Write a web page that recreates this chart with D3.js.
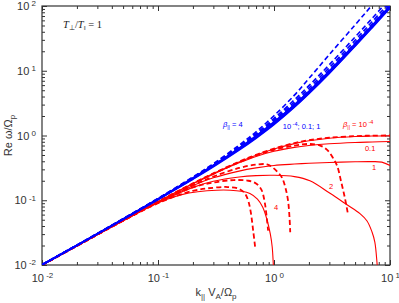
<!DOCTYPE html>
<html>
<head>
<meta charset="utf-8">
<script src="https://cdn.jsdelivr.net/npm/d3@7"></script>
<style>
  body { margin: 0; background: #fff; }
  svg { display: block; }
</style>
</head>
<body>
<svg id="chart" width="399" height="303"></svg>
<script>
/////////////////////////////////////////////////////////////////
// Data: k|| VA/Omega_p and Re omega/Omega_p
/////////////////////////////////////////////////////////////////

var kGrid = [0.01, 0.02, 0.05, 0.1, 0.2, 0.3, 0.5, 0.7, 1, 1.5, 2, 3, 5, 7, 10];

// blue (R-mode / whistler) branch, solid lines, beta = 1e-4, 0.1, 1, 2, 4
var blueSolid1e4 = [0.0101, 0.0202, 0.0513, 0.105, 0.221, 0.348, 0.640, 0.987, 1.62, 3.00, 4.83, 9.91, 26.0, 50.0, 101];
var blueSolid01  = [0.0101, 0.0202, 0.0512, 0.105, 0.220, 0.346, 0.634, 0.976, 1.60, 2.95, 4.76, 9.76, 25.6, 49.2, 99.4];
var blueSolid1   = [0.0101, 0.0201, 0.0510, 0.104, 0.218, 0.341, 0.622, 0.952, 1.55, 2.87, 4.63, 9.50, 24.9, 48.0, 97.0];
var blueSolid2   = [0.0100, 0.0200, 0.0507, 0.103, 0.215, 0.336, 0.610, 0.930, 1.51, 2.80, 4.52, 9.30, 24.4, 47.0, 95.0];
var blueSolid4   = [0.0100, 0.0199, 0.0503, 0.102, 0.211, 0.328, 0.594, 0.905, 1.47, 2.73, 4.41, 9.08, 23.9, 46.0, 93.0];

// blue branch, dashed lines
var blueDash1e4 = [0.0101, 0.0202, 0.0513, 0.105, 0.221, 0.349, 0.642, 0.990, 1.63, 3.02, 4.86, 9.97, 26.2, 50.4, 102];
var blueDash01  = [0.0101, 0.0202, 0.0513, 0.105, 0.221, 0.350, 0.648, 1.00, 1.66, 3.10, 5.00, 10.3, 27.1, 52.2, 106];
var blueDash1   = [0.0101, 0.0202, 0.0514, 0.105, 0.223, 0.354, 0.662, 1.03, 1.74, 3.30, 5.40, 11.2, 29.6, 57.0, 116];
var blueDash2   = [0.0101, 0.0203, 0.0516, 0.106, 0.225, 0.360, 0.680, 1.07, 1.84, 3.56, 5.90, 12.4, 33.2, 64.2, 131];
var blueDash4   = [0.0101, 0.0203, 0.0518, 0.107, 0.229, 0.368, 0.710, 1.14, 2.02, 4.20, 7.60, 17.8, 51.0, 103, 215];

// red (L-mode / ion cyclotron) branch, solid lines
var redSolid1e4 = [0.00995, 0.0198, 0.0488, 0.0951, 0.181, 0.258, 0.390, 0.497, 0.618, 0.750, 0.828, 0.908, 0.963, 0.980, 0.990];
var redSolid01  = [0.00995, 0.0198, 0.0487, 0.0948, 0.179, 0.253, 0.378, 0.475, 0.570, 0.655, 0.700, 0.745, 0.780, 0.795, 0.810];

var kRedSolid1 = [0.01, 0.02, 0.05, 0.1, 0.2, 0.3, 0.5, 0.7, 1, 1.5, 2, 3, 5, 7, 8.5, 10];
var redSolid1  = [0.00995, 0.0198, 0.0485, 0.0935, 0.168, 0.222, 0.282, 0.316, 0.345, 0.362, 0.372, 0.383, 0.393, 0.395, 0.388, 0.345];

var kRedSolid2 = [0.01, 0.02, 0.05, 0.1, 0.2, 0.3, 0.5, 0.7, 1, 1.5, 2.04, 3.04, 4.26, 5.51, 6.34, 7.0, 7.4, 7.73, 7.9];
var redSolid2  = [0.00995, 0.0197, 0.0483, 0.0915, 0.158, 0.196, 0.228, 0.240, 0.243, 0.232, 0.200, 0.128, 0.0850, 0.0620, 0.0478, 0.0323, 0.0226, 0.0107, 0.006];

var kRedSolid4 = [0.01, 0.02, 0.05, 0.085, 0.12, 0.16, 0.22, 0.32, 0.42, 0.52, 0.62, 0.72, 0.8, 0.87, 0.93, 0.965, 0.985, 0.995];
var redSolid4  = [0.00995, 0.0197, 0.048, 0.080, 0.104, 0.122, 0.135, 0.143, 0.143, 0.138, 0.127, 0.104, 0.078, 0.050, 0.030, 0.019, 0.0107, 0.007];

// red branch, dashed lines
var redDash1e4 = [0.00995, 0.0198, 0.0488, 0.0952, 0.182, 0.260, 0.394, 0.503, 0.627, 0.765, 0.845, 0.925, 0.978, 0.995, 1.00];

var kRedDash01 = [0.01, 0.02, 0.05, 0.1, 0.2, 0.3, 0.5, 0.7, 1, 1.5, 2, 2.5, 2.87, 3.2, 3.5, 3.8, 4.1, 4.35];
var redDash01  = [0.00995, 0.0198, 0.0488, 0.0950, 0.180, 0.256, 0.385, 0.488, 0.600, 0.700, 0.740, 0.700, 0.600, 0.460, 0.340, 0.190, 0.105, 0.060];

var kRedDash1 = [0.01, 0.02, 0.05, 0.1, 0.2, 0.3, 0.5, 0.7, 0.87, 0.98, 1.08, 1.17, 1.25, 1.32, 1.36, 1.38];
var redDash1  = [0.00995, 0.0198, 0.0486, 0.0940, 0.170, 0.232, 0.315, 0.355, 0.358, 0.318, 0.270, 0.225, 0.160, 0.100, 0.055, 0.032];

var kRedDash2 = [0.01, 0.02, 0.05, 0.1, 0.2, 0.3, 0.45, 0.6, 0.7, 0.78, 0.83, 0.86, 0.89];
var redDash2  = [0.00995, 0.0197, 0.0484, 0.092, 0.158, 0.188, 0.205, 0.200, 0.182, 0.145, 0.095, 0.060, 0.034];

var kRedDash4 = [0.01, 0.02, 0.05, 0.1, 0.2, 0.3, 0.4, 0.5, 0.56, 0.6, 0.63, 0.66, 0.69];
var redDash4  = [0.00995, 0.0197, 0.0482, 0.090, 0.140, 0.156, 0.160, 0.150, 0.128, 0.098, 0.066, 0.035, 0.018];

// axis ranges
var xDomain = [1e-2, 1e1];
var yDomain = [1e-2, 1e2];

//////////////////////////////////////////////////////////////
// Curves list: which k array, which omega array, colour, dash
//////////////////////////////////////////////////////////////

var curves = [
    {k: kRedDash4,  w: redDash4,    color: "red", dashed: true},
    {k: kRedDash2,  w: redDash2,    color: "red", dashed: true},
    {k: kRedDash1,  w: redDash1,    color: "red", dashed: true},
    {k: kRedDash01, w: redDash01,   color: "red", dashed: true},
    {k: kGrid,      w: redDash1e4,  color: "red", dashed: true},
    {k: kRedSolid4, w: redSolid4,   color: "red", dashed: false},
    {k: kRedSolid2, w: redSolid2,   color: "red", dashed: false},
    {k: kRedSolid1, w: redSolid1,   color: "red", dashed: false},
    {k: kGrid,      w: redSolid01,  color: "red", dashed: false},
    {k: kGrid,      w: redSolid1e4, color: "red", dashed: false},
    {k: kGrid,      w: blueSolid4,   color: "blue", dashed: false},
    {k: kGrid,      w: blueSolid2,   color: "blue", dashed: false},
    {k: kGrid,      w: blueSolid1,   color: "blue", dashed: false},
    {k: kGrid,      w: blueSolid01,  color: "blue", dashed: false},
    {k: kGrid,      w: blueSolid1e4, color: "blue", dashed: false},
    {k: kGrid,      w: blueDash1e4,  color: "blue", dashed: true},
    {k: kGrid,      w: blueDash01,   color: "blue", dashed: true},
    {k: kGrid,      w: blueDash1,    color: "blue", dashed: true},
    {k: kGrid,      w: blueDash2,    color: "blue", dashed: true},
    {k: kGrid,      w: blueDash4,    color: "blue", dashed: true}
];

// text labels placed in data coordinates
var curveLabels = [
    {k: 0.363, w: 1.35,  color: "blue", beta: true,  text: "4"},
    {k: 1.19,  w: 1.26,  color: "blue", beta: false, text: "10", exp: "-4", tail: "; 0.1; 1"},
    {k: 3.94,  w: 1.35,  color: "red",  beta: true,  text: "10", exp: "-4"},
    {k: 6.08,  w: 0.576, color: "red",  beta: false, text: "0.1"},
    {k: 7.0,   w: 0.293, color: "red",  beta: false, text: "1"},
    {k: 2.98,  w: 0.150, color: "red",  beta: false, text: "2"},
    {k: 1.0,   w: 0.0707, color: "red", beta: false, text: "4"}
];

/////////////////////////////////////////////////////////////////
// Chart
/////////////////////////////////////////////////////////////////

var w = 399, h = 303;
var plotLeft = 42, plotRight = 390, plotTop = 6, plotBottom = 265;
var font = "'Liberation Sans', Arial, Helvetica, sans-serif";
var axisColor = "#333";

var xScale = d3.scaleLog().domain(xDomain).range([plotLeft, plotRight]);
var yScale = d3.scaleLog().domain(yDomain).range([plotBottom, plotTop]);

var svg = d3.select("#chart").attr("width", w).attr("height", h);

svg.append("defs").append("clipPath")
    .attr("id", "plotClip")
    .append("rect")
    .attr("x", plotLeft).attr("y", plotTop)
    .attr("width", plotRight - plotLeft).attr("height", plotBottom - plotTop);

// major and minor tick values
function isMajor(v) {
    var l = Math.log10(v);
    return Math.abs(l - Math.round(l)) < 1e-6;
}
var xAll = xScale.ticks();
var yAll = yScale.ticks();
var xMajor = xAll.filter(isMajor), xMinor = xAll.filter(function(v) { return !isMajor(v); });
var yMajor = yAll.filter(isMajor), yMinor = yAll.filter(function(v) { return !isMajor(v); });

function styleAxis(g) {
    g.select(".domain").remove();
    g.selectAll(".tick line").attr("stroke", axisColor).attr("stroke-width", 1);
    g.selectAll(".tick text")
        .attr("fill", axisColor)
        .style("font-family", font)
        .style("font-size", "11px");
}

// power-of-ten label with a superscript exponent
function powLabel(sel) {
    sel.each(function(d) {
        var t = d3.select(this);
        var e = Math.round(Math.log10(d));
        t.text(null);
        t.append("tspan").text("10");
        t.append("tspan").attr("dy", "-0.45em").style("font-size", "8px").text(" " + e);
    });
}

// bottom axis, ticks pointing in
var gx = svg.append("g").attr("transform", "translate(0," + plotBottom + ")");
gx.call(d3.axisBottom(xScale).tickValues(xMajor).tickSizeInner(-5).tickSizeOuter(0).tickPadding(9)).call(styleAxis);
gx.selectAll(".tick text").call(powLabel);
svg.append("g").attr("transform", "translate(0," + plotBottom + ")")
    .call(d3.axisBottom(xScale).tickValues(xMinor).tickSizeInner(-3).tickSizeOuter(0).tickFormat(""))
    .call(styleAxis);

// top axis (mirror)
svg.append("g").attr("transform", "translate(0," + plotTop + ")")
    .call(d3.axisTop(xScale).tickValues(xMajor).tickSizeInner(-5).tickSizeOuter(0).tickFormat(""))
    .call(styleAxis);
svg.append("g").attr("transform", "translate(0," + plotTop + ")")
    .call(d3.axisTop(xScale).tickValues(xMinor).tickSizeInner(-3).tickSizeOuter(0).tickFormat(""))
    .call(styleAxis);

// left axis
var gy = svg.append("g").attr("transform", "translate(" + plotLeft + ",0)");
gy.call(d3.axisLeft(yScale).tickValues(yMajor).tickSizeInner(-5).tickSizeOuter(0).tickPadding(6)).call(styleAxis);
gy.selectAll(".tick text").call(powLabel);
svg.append("g").attr("transform", "translate(" + plotLeft + ",0)")
    .call(d3.axisLeft(yScale).tickValues(yMinor).tickSizeInner(-3).tickSizeOuter(0).tickFormat(""))
    .call(styleAxis);

// right axis (mirror)
svg.append("g").attr("transform", "translate(" + plotRight + ",0)")
    .call(d3.axisRight(yScale).tickValues(yMajor).tickSizeInner(-5).tickSizeOuter(0).tickFormat(""))
    .call(styleAxis);
svg.append("g").attr("transform", "translate(" + plotRight + ",0)")
    .call(d3.axisRight(yScale).tickValues(yMinor).tickSizeInner(-3).tickSizeOuter(0).tickFormat(""))
    .call(styleAxis);

// frame
svg.append("rect")
    .attr("x", plotLeft).attr("y", plotTop)
    .attr("width", plotRight - plotLeft).attr("height", plotBottom - plotTop)
    .attr("fill", "none").attr("stroke", axisColor).attr("stroke-width", 1.2);

// curves
var line = d3.line()
    .x(function(d) { return xScale(d[0]); })
    .y(function(d) { return yScale(d[1]); })
    .curve(d3.curveCatmullRom.alpha(0.5));

var plot = svg.append("g").attr("clip-path", "url(#plotClip)");

curves.forEach(function(c) {
    var pts = c.k.map(function(k, i) { return [k, c.w[i]]; });
    plot.append("path")
        .datum(pts)
        .attr("d", line)
        .attr("fill", "none")
        .attr("stroke", c.color)
        .attr("stroke-width", c.color == "blue" ? 1.6 : (c.dashed ? 1.8 : 1.1))
        .attr("stroke-dasharray", c.dashed ? "5,3" : null);
});

// curve labels
curveLabels.forEach(function(l) {
    var t = svg.append("text")
        .attr("x", xScale(l.k))
        .attr("y", yScale(l.w))
        .attr("fill", l.color)
        .style("font-family", font)
        .style("font-size", "7.5px");
    if (l.beta) {
        t.append("tspan").style("font-style", "italic").text("\u03b2");
        t.append("tspan").attr("dy", "2").style("font-size", "5px").text("||");
        t.append("tspan").attr("dy", "-2").text(" = ");
    }
    t.append("tspan").text(l.text);
    if (l.exp) t.append("tspan").attr("dy", "-3").style("font-size", "5.5px").text(" " + l.exp);
    if (l.tail) t.append("tspan").attr("dy", "3").text(l.tail);
});

// temperature ratio note
var note = svg.append("text")
    .attr("x", xScale(0.0152)).attr("y", yScale(45.7))
    .attr("fill", "#222")
    .style("font-family", "'Liberation Serif', 'Times New Roman', serif")
    .style("font-size", "10.5px");
note.append("tspan").style("font-style", "italic").text("T");
note.append("tspan").attr("dy", "2").style("font-size", "7px").text("\u22a5");
note.append("tspan").attr("dy", "-2").text("/");
note.append("tspan").style("font-style", "italic").text("T");
note.append("tspan").attr("dy", "2").style("font-size", "7px").text("\u2016");
note.append("tspan").attr("dy", "-2").text(" = 1");

// axis titles
var xt = svg.append("text")
    .attr("x", (plotLeft + plotRight) / 2).attr("y", 296)
    .attr("text-anchor", "middle")
    .attr("fill", axisColor)
    .style("font-family", font).style("font-size", "11px");
xt.append("tspan").text("k");
xt.append("tspan").attr("dy", "3").style("font-size", "8px").text("||");
xt.append("tspan").attr("dy", "-3").text(" V");
xt.append("tspan").attr("dy", "3").style("font-size", "8px").text("A");
xt.append("tspan").attr("dy", "-3").text("/\u03a9");
xt.append("tspan").attr("dy", "3").style("font-size", "8px").text("p");

var yt = svg.append("text")
    .attr("transform", "translate(12," + ((plotTop + plotBottom) / 2) + ") rotate(-90)")
    .attr("text-anchor", "middle")
    .attr("fill", axisColor)
    .style("font-family", font).style("font-size", "11px");
yt.append("tspan").text("Re \u03c9/\u03a9");
yt.append("tspan").attr("dy", "3").style("font-size", "8px").text("p");
</script>
</body>
</html>
